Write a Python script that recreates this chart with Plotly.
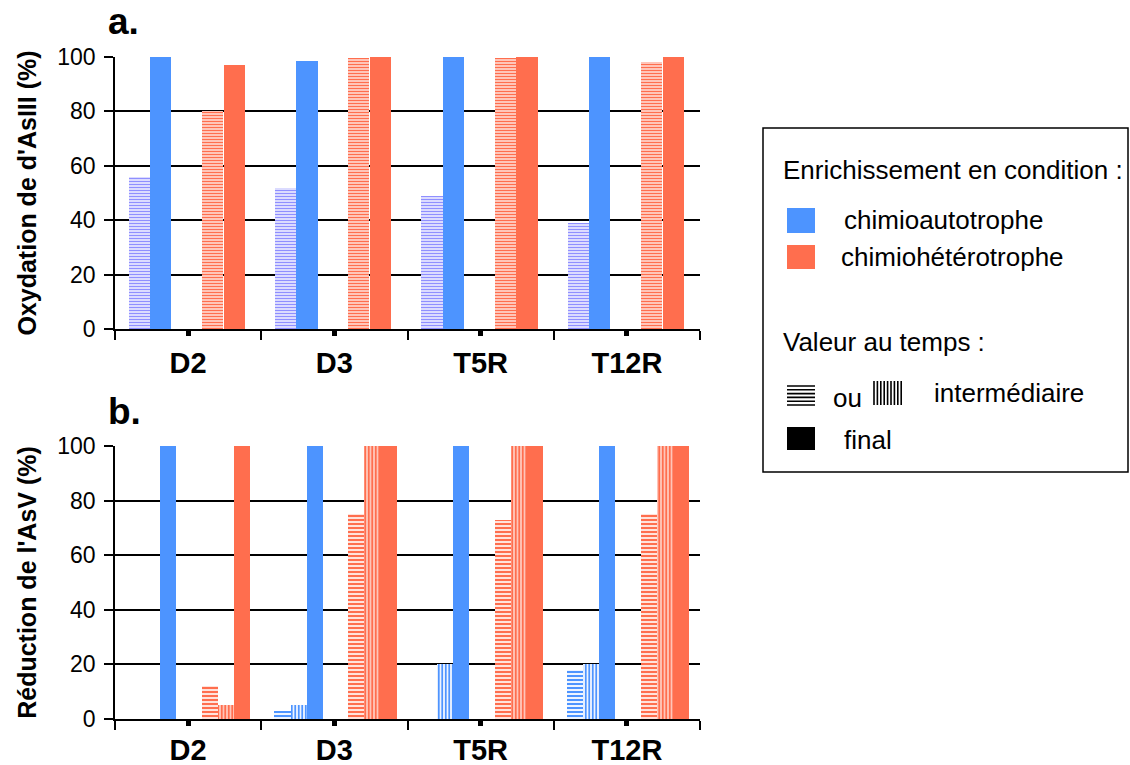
import plotly.graph_objects as go

# ---------------- data ----------------
categories = ["D2", "D3", "T5R", "T12R"]

# panel a : Oxydation de d'AsIII (%)
a_auto_inter = [56, 52, 49, 39]
a_auto_final = [100, 98.5, 100, 100]
a_hetero_inter = [80, 99.6, 99.5, 98]
a_hetero_final = [97, 100, 100, 100]

# panel b : Réduction de l'AsV (%)
b_auto_inter_h = [0, 3, 0, 18]
b_auto_inter_v = [0, 5, 20, 20]
b_auto_final = [100, 100, 100, 100]
b_hetero_inter_h = [12, 75, 73, 75]
b_hetero_inter_v = [5, 100, 100, 100]
b_hetero_final = [100, 100, 100, 100]

y_ticks = [0, 20, 40, 60, 80, 100]

# ---------------- style ----------------
W, H = 1130, 765
BLUE = "#4D94FF"
RED = "#FF6E4E"
LAV = "#8F8FFF"
FONT = "Liberation Sans"

def px(x):
    return x / W

def py(y):
    return 1 - y / H

xs = list(range(len(categories)))

fig = go.Figure()

def add_bar(x, y, axis, color, offset, width, shape=None, size=4, solidity=0.5, fg=None):
    marker = dict(color=color if shape is None else "white", line=dict(width=0))
    if shape is not None:
        marker["pattern"] = dict(shape=shape, fgcolor=fg or color, bgcolor="white",
                                 size=size, solidity=solidity, fillmode="replace")
    fig.add_trace(go.Bar(x=x, y=y, xaxis="x" + axis, yaxis="y" + axis,
                         offset=offset, width=width, marker=marker, showlegend=False,
                         hoverinfo="skip"))

# panel a
wa = 0.145
add_bar(xs, a_auto_inter, "", LAV, -0.405, wa, "-", 3, 0.55, LAV)
add_bar(xs, a_auto_final, "", BLUE, -0.26, wa)
add_bar(xs, a_hetero_inter, "", RED, 0.095, wa, "-", 3, 0.6, RED)
add_bar(xs, a_hetero_final, "", RED, 0.245, wa)

# panel b
wb = 0.11
add_bar(xs, b_auto_inter_h, "2", BLUE, -0.41, wb, "-", 4, 0.55, BLUE)
add_bar(xs, b_auto_inter_v, "2", BLUE, -0.30, wb, "|", 3.5, 0.55, BLUE)
add_bar(xs, b_auto_final, "2", BLUE, -0.19, wb)
add_bar(xs, b_hetero_inter_h, "2", RED, 0.095, wb, "-", 4, 0.6, RED)
add_bar(xs, b_hetero_inter_v, "2", RED, 0.205, wb, "|", 3.5, 0.7, RED)
add_bar(xs, b_hetero_final, "2", RED, 0.315, wb)

xdom = [px(115), px(700)]

def xaxis_cfg(anchor, standoff):
    return dict(domain=xdom, anchor=anchor, range=[-0.5, len(categories) - 0.5],
                automargin=False,
                tickmode="array", tickvals=xs, ticktext=categories,
                showline=True, linecolor="black", linewidth=1.5,
                ticks="outside", ticklen=5, tickwidth=5, tickcolor="black",
                showgrid=False, zeroline=False,
                tickfont=dict(family=FONT, size=29, color="black", weight="bold"),
                ticklabelstandoff=standoff,
                minor=dict(ticks="outside", ticklen=9, tickwidth=1.5, tickcolor="black",
                           tick0=-0.5, dtick=1, showgrid=False))

def yaxis_cfg(anchor, dom, title):
    return dict(domain=dom, anchor=anchor, range=[0, 100], tickmode="array", tickvals=y_ticks,
                automargin=False,
                showline=True, linecolor="black", linewidth=1.5,
                ticks="outside", ticklen=9, tickwidth=1.5, tickcolor="black",
                showgrid=True, gridcolor="black", gridwidth=1.5, zeroline=False,
                tickfont=dict(family=FONT, size=23, color="black"),
                ticklabelstandoff=4,
                title=dict(text=title, standoff=14,
                           font=dict(family=FONT, size=25, color="black", weight="bold")))

fig.update_layout(
    width=W, height=H, margin=dict(l=0, r=0, t=0, b=0, autoexpand=False),
    paper_bgcolor="white", plot_bgcolor="white",
    barmode="overlay", bargap=0,
    xaxis=xaxis_cfg("y", 2),
    yaxis=yaxis_cfg("x", [py(329), py(57)], "Oxydation de d'AsIII (%)"),
    xaxis2=xaxis_cfg("y2", -1),
    yaxis2=yaxis_cfg("x2", [py(719), py(446)], "Réduction de l'AsV (%)"),
    showlegend=False,
)

ann = []
ann.append(dict(text="a.", x=px(106), y=py(44), xanchor="left", yanchor="bottom",
                font=dict(family=FONT, size=37, color="black", weight="bold")))
ann.append(dict(text="b.", x=px(106), y=py(434), xanchor="left", yanchor="bottom",
                font=dict(family=FONT, size=37, color="black", weight="bold")))

LF = dict(family=FONT, size=26, color="black")
legend_texts = [
    ("Enrichissement en condition :", 781, 170),
    ("chimioautotrophe", 842, 220),
    ("chimiohétérotrophe", 839, 257),
    ("Valeur au temps :", 781, 342),
    ("ou", 831, 398),
    ("intermédiaire", 932, 393),
    ("final", 842, 440),
]
for t, x, y in legend_texts:
    ann.append(dict(text=t, x=px(x), y=py(y), xanchor="left", yanchor="middle", font=LF))
for a in ann:
    a.update(xref="paper", yref="paper", showarrow=False)
fig.update_layout(annotations=ann)

shapes = []
# legend frame
shapes.append(dict(type="rect", x0=px(763), x1=px(1128), y0=py(472), y1=py(128),
                   line=dict(color="black", width=1.5), fillcolor="rgba(0,0,0,0)"))
# colour swatches
shapes.append(dict(type="rect", x0=px(787), x1=px(815), y0=py(233), y1=py(208),
                   line=dict(width=0), fillcolor=BLUE))
shapes.append(dict(type="rect", x0=px(787), x1=px(815), y0=py(269), y1=py(245),
                   line=dict(width=0), fillcolor=RED))
shapes.append(dict(type="rect", x0=px(787), x1=px(815), y0=py(450), y1=py(427),
                   line=dict(width=0), fillcolor="black"))
# horizontal-lines icon
path = ""
for i in range(6):
    yy = 386 + i * 3.8
    path += f"M{px(787)},{py(yy)} L{px(815)},{py(yy)} "
shapes.append(dict(type="path", path=path, line=dict(color="black", width=1.6)))
# vertical-lines icon
path = ""
for i in range(9):
    xx = 874 + i * 3.4
    path += f"M{px(xx)},{py(381)} L{px(xx)},{py(405)} "
shapes.append(dict(type="path", path=path, line=dict(color="black", width=1.6)))
for s in shapes:
    s.update(xref="paper", yref="paper")
fig.update_layout(shapes=shapes)

fig.write_html("out.html", config={"displayModeBar": False},
               post_script="document.body.style.margin='0';document.body.style.padding='0';"
                           "document.body.style.overflow='hidden';")
